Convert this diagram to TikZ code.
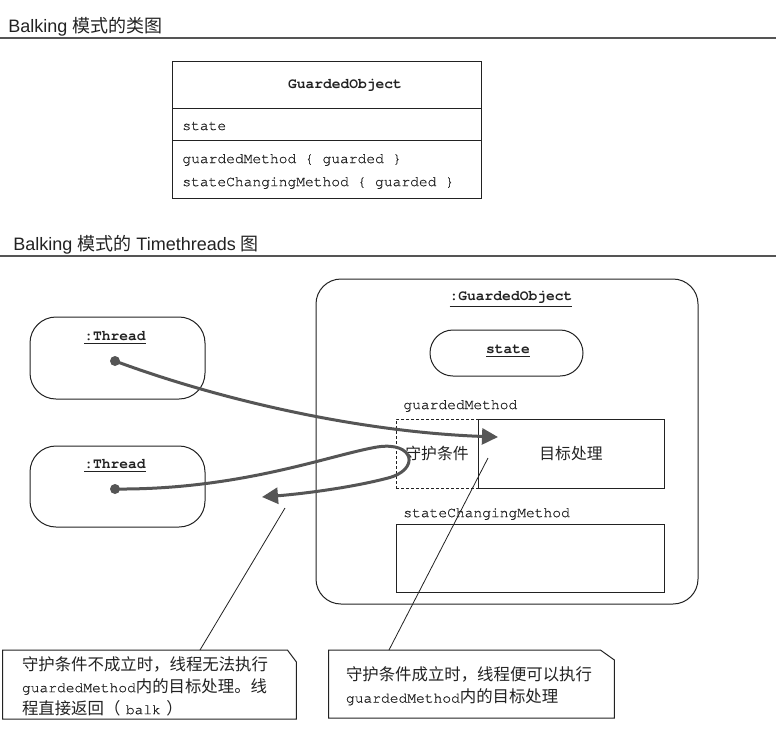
\documentclass[tikz,border=0pt]{standalone}
\usepackage{fontspec}
\setmainfont{Liberation Sans}
\setmonofont{texgyrecursor}[Extension=.otf, UprightFont=*-regular, BoldFont=*-bold, UprightFeatures={FakeBold=0.6}]
\newfontfamily\cjk{Noto Sans CJK SC}
\usetikzlibrary{arrows.meta}
\definecolor{inkgray}{HTML}{222222}
\definecolor{flowgray}{HTML}{555555}
\newcommand\codetext[1]{{\fontsize{7.3}{11}\selectfont\ttfamily #1}}
\tikzset{
  heading/.style={anchor=base west, inner sep=0pt, text=inkgray, font=\fontsize{9}{11}\selectfont},
  rule/.style={draw=flowgray, line width=0.75pt},
  box/.style={draw=inkgray, line width=0.5pt, inner sep=0pt},
  mono/.style={inner sep=0pt, text=inkgray, font=\fontsize{7.3}{9}\selectfont\ttfamily},
  monobold/.style={inner sep=0pt, text=inkgray, font=\fontsize{7.3}{9}\selectfont\ttfamily\bfseries},
  thread/.style={box, rounded corners=13pt, minimum width=87.5pt, minimum height=41pt},
  object/.style={box, rounded corners=12.5pt, minimum width=191pt, minimum height=162.5pt},
  stateoval/.style={box, rounded corners=11.5pt, minimum width=76.5pt, minimum height=23pt},
  methodbox/.style={box, minimum height=34.5pt, text=inkgray, font=\fontsize{7.9}{9}\selectfont\cjk},
  guardbox/.style={methodbox, dash pattern=on 1.5pt off 1pt, minimum width=41pt},
  dot/.style={circle, fill=flowgray, inner sep=0pt, minimum size=5pt},
  flow/.style={draw=flowgray, line width=1.5pt, -{Triangle[length=8pt,width=8pt]}},
  leader/.style={draw=inkgray, line width=0.4pt},
  notebox/.style={inner ysep=0pt, align=left, text=inkgray, font=\fontsize{8.2}{11}\selectfont\cjk}
}
\begin{document}
\begin{tikzpicture}[x=0.5pt, y=-0.5pt]
\useasboundingbox[fill=white] (0,0) rectangle (776,746);

% headings
\node[heading] (head1) at (8,32) {Balking {\cjk 模式的类图}};
\draw[rule] (0,38) -- (776,38);
\node[heading] (head2) at (13,250) {Balking {\cjk 模式的} Timethreads {\cjk 图}};
\draw[rule] (0,256) -- (776,256);

% class diagram
\node[box, minimum width=154.5pt, minimum height=68.5pt] (classbox) at (326.5,129.5) {};
\draw[box] (172,108) -- (481,108);
\draw[box] (172,140) -- (481,140);
\node[monobold] (classname) at (345,85) {GuardedObject};
\node[mono, anchor=west] (classfield) at (182,126) {state};
\node[mono, anchor=west] (classop1) at (182,160) {guardedMethod \{ guarded \}};
\node[mono, anchor=west] (classop2) at (182,183) {stateChangingMethod \{ guarded \}};

% threads
\node[thread] (thread1) at (117.5,358) {};
\node[monobold] (thread1name) at (115,338) {\underline{:Thread}};
\node[dot] (dot1) at (115,361) {};
\node[thread, minimum height=40.5pt] (thread2) at (117.5,486.5) {};
\node[monobold] (thread2name) at (115,466) {\underline{:Thread}};
\node[dot] (dot2) at (115,489) {};

% guarded object
\node[object] (guarded) at (507,441.5) {};
\node[monobold] (guardedname) at (511,299) {\underline{:GuardedObject}};
\node[stateoval] (stateoval) at (506.5,353) {};
\node[monobold] (statename) at (508,351) {\underline{state}};
\node[mono, anchor=west] (gmlabel) at (403,406) {guardedMethod};
\node[guardbox] (guardbox) at (437,453.5) {守护条件};
\node[methodbox, minimum width=93pt] (targetbox) at (571,453.5) {目标处理};
\node[mono, anchor=west] (sclabel) at (403,514) {stateChangingMethod};
\node[methodbox, minimum width=134pt, minimum height=34pt] (changebox) at (530,558) {};

% flows
\coordinate (gmentry) at (498,437);
\coordinate (looptop) at (377,447);
\coordinate (loopend) at (388,478);
\coordinate (balkback) at (262,497);
\draw[flow] (dot1.center) .. controls (220,400) and (360,432) .. (gmentry);
\draw[flow] (dot2.center) .. controls (240,490) and (330,455) .. (looptop)
  .. controls (415,441) and (420,470) .. (loopend)
  .. controls (350,488) and (300,494) .. (balkback);

% notes
\node[notebox, inner xsep=9.5pt, text width=127.5pt, minimum height=34.5pt] (balknote) at (149.5,686)
  {守护条件不成立时，线程无法执行\\\codetext{guardedMethod}内的目标处理。线\\程直接返回（\codetext{ balk }）};
\draw[box] (balknote.north west |- 0,650) -- ([xshift=-4.5pt]balknote.north east |- 0,650) -- ([yshift=-6pt]balknote.north east |- 0,650)
  -- (balknote.south east |- 0,719) -- (balknote.south west |- 0,719) -- cycle;
\node[notebox, inner xsep=8.5pt, text width=125.5pt, minimum height=34pt] (passnote) at (471.5,686)
  {守护条件成立时，线程便可以执行\\\codetext{guardedMethod}内的目标处理};
\draw[box] (passnote.north west |- 0,650) -- ([xshift=-7pt]passnote.north east |- 0,650) -- ([yshift=-5pt]passnote.north east |- 0,650)
  -- (passnote.south east |- 0,718) -- (passnote.south west |- 0,718) -- cycle;

\coordinate (balkpoint) at (285,508);
\coordinate (balkfoot) at (200,650);
\coordinate (passpoint) at (488,458);
\coordinate (passfoot) at (389,650);
\draw[leader] (balkpoint) -- (balkfoot);
\draw[leader] (passpoint) -- (passfoot);

\end{tikzpicture}
\end{document}
